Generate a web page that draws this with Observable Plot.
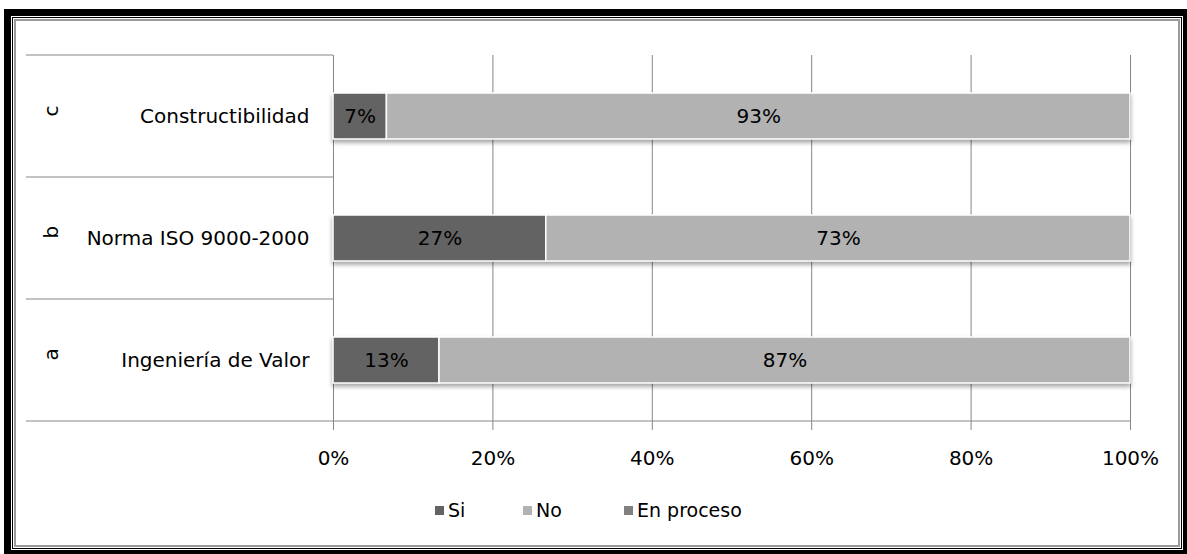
<!DOCTYPE html>
<html>
<head>
<meta charset="utf-8">
<script src="https://cdn.jsdelivr.net/npm/d3@7"></script>
<script src="https://cdn.jsdelivr.net/npm/@observablehq/plot@0.6"></script>
<style>
  html, body { margin: 0; padding: 0; background: #fff; overflow: hidden; width: 1187px; height: 554px; }
  #frame { position: absolute; left: 4px; top: 9px; width: 1186px; height: 548px; box-sizing: border-box; border: 7px solid #000; padding: 1px; }
  #f2 { box-sizing: border-box; width: 100%; height: 100%; border: 1px solid #000; padding: 1px; }
  #f3 { box-sizing: border-box; width: 100%; height: 100%; border: 2px solid #9a9a9a; background: #fff; }
  #chart { position: absolute; left: 0; top: 0; }
  #chart svg { font-family: "DejaVu Sans", sans-serif; overflow: visible; }
  #chart g[aria-label="bar"] { filter: drop-shadow(0px 3px 2px rgba(0,0,0,0.35)); }
  #legend { position: absolute; left: 435px; top: 499px; display: flex; align-items: center; font-family: "DejaVu Sans", sans-serif; font-size: 19px; color: #000; }
  #legend .item { display: flex; align-items: center; }
  #legend .sw { width: 9px; height: 9px; margin-right: 4px; }
</style>
</head>
<body>
<div id="frame"><div id="f2"><div id="f3"></div></div></div>
<div id="chart"></div>
<div id="legend"></div>
<script>
const categories = ["Constructibilidad", "Norma ISO 9000-2000", "Ingeniería de Valor"];
const letters = ["c", "b", "a"];
const series = ["Si", "No", "En proceso"];
const siValues = [0.067, 0.267, 0.133];
const noValues = [0.933, 0.733, 0.867];
const enProcesoValues = [0, 0, 0];
const xTicks = [0, 0.2, 0.4, 0.6, 0.8, 1];
const seriesColors = ["#636363", "#b2b2b2", "#808080"];

const seriesValues = [siValues, noValues, enProcesoValues];
const rows = [];
categories.forEach((c, i) => {
  series.forEach((s, j) => rows.push({category: c, series: s, value: seriesValues[j][i]}));
});
const pct = d3.format(".0%");
const gridColor = "#868686";

const chart = Plot.plot({
  width: 1187,
  height: 480,
  marginLeft: 333,
  marginRight: 57,
  marginTop: 55,
  marginBottom: 59,
  style: {fontFamily: "DejaVu Sans, sans-serif", fontSize: "20px", background: "transparent"},
  x: {domain: [0, 1]},
  y: {domain: categories, paddingInner: 0.62, paddingOuter: 0.31},
  color: {domain: series, range: seriesColors},
  marks: [
    Plot.gridX(xTicks, {stroke: gridColor, strokeOpacity: 1, strokeWidth: 1}),
    Plot.barX(rows, Plot.stackX({x: "value", y: "category", fill: "series", stroke: "#fff", strokeWidth: 1.5})),
    Plot.text(rows.filter(d => d.value > 0), Plot.stackX({x: "value", y: "category", text: d => pct(d.value), fill: "#000", fontSize: 20})),
    Plot.axisX({ticks: xTicks, tickFormat: pct, tickSize: 9, tickPadding: 20, stroke: gridColor, fill: "#000", fontSize: 20, label: null}),
    Plot.axisY({tickSize: 0, tickPadding: 24, fill: "#000", fontSize: 20, label: null}),
    Plot.text(letters, {y: (d, i) => categories[i], text: d => d, frameAnchor: "left", dx: -282, rotate: -90, fill: "#000", fontSize: 20})
  ]
});

// category separator lines at band boundaries, from the library's scales
const ys = chart.scale("y");
const xs = chart.scale("x");
const half = (ys.step - ys.bandwidth) / 2;
const bounds = categories.map(c => ys.apply(c) - half);
const bottom = ys.apply(categories[categories.length - 1]) + ys.bandwidth + half;
const g = d3.select(chart).append("g").attr("stroke", gridColor).attr("stroke-width", 1);
bounds.forEach(y => g.append("line").attr("x1", 26).attr("x2", xs.apply(0)).attr("y1", y).attr("y2", y));
g.append("line").attr("x1", 26).attr("x2", xs.apply(1)).attr("y1", bottom).attr("y2", bottom);

document.getElementById("chart").appendChild(chart);

const legend = document.getElementById("legend");
const widths = [88, 101, null];
series.forEach((s, i) => {
  const it = document.createElement("div");
  it.className = "item";
  if (widths[i]) it.style.width = widths[i] + "px";
  const sw = document.createElement("span");
  sw.className = "sw";
  sw.style.background = seriesColors[i];
  const t = document.createElement("span");
  t.textContent = s;
  it.appendChild(sw); it.appendChild(t);
  legend.appendChild(it);
});
</script>
</body>
</html>
